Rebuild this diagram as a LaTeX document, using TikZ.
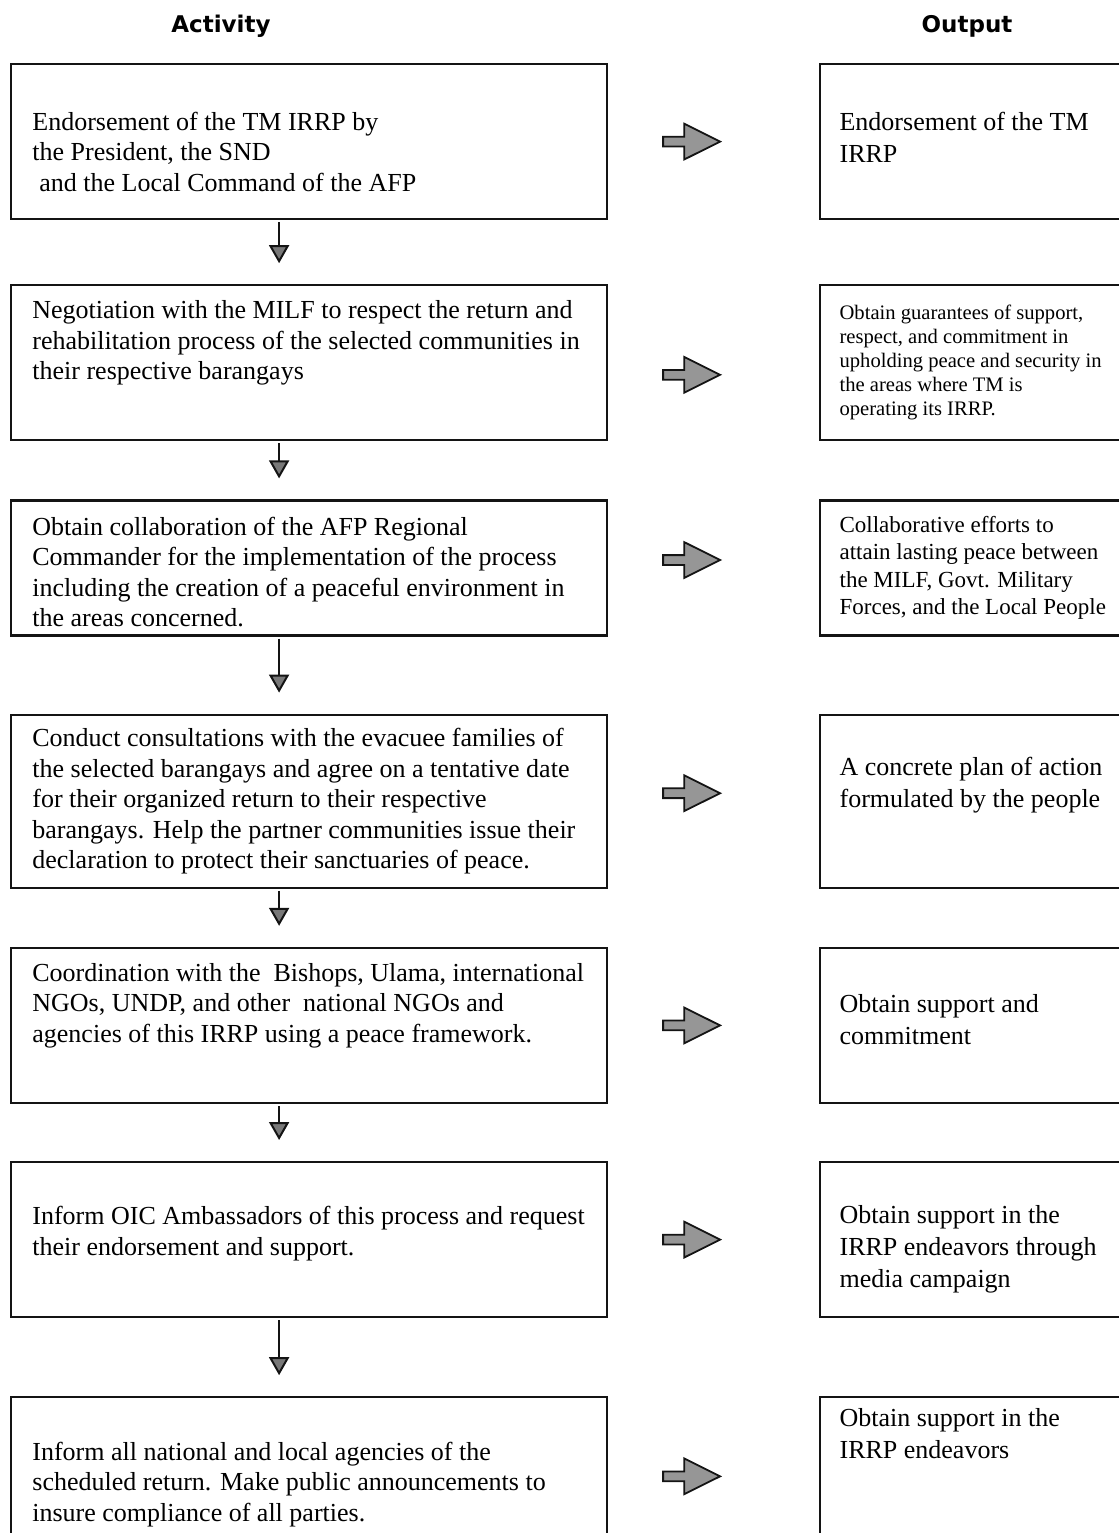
\documentclass[tikz,border=0pt]{standalone}
\usepackage{fontspec}
\setmainfont{Liberation Serif}
\newfontfamily\headfont{DejaVu Sans}
\usepackage{xcolor}
\usetikzlibrary{shapes.arrows, arrows.meta, positioning}
\definecolor{inkBlack}{RGB}{20, 20, 20}
\definecolor{arrowGray}{RGB}{150, 150, 150}

\begin{document}
\begin{tikzpicture}[
  actbox/.style={rectangle, draw=inkBlack, line width=1.1pt, minimum width=298pt, inner sep=0pt},
  outbox/.style={rectangle, draw=inkBlack, line width=1.1pt, minimum width=170pt, inner sep=0pt},
  acttext/.style={align=left, inner sep=0pt, font=\fontsize{13}{15.3}\selectfont},
  outtext/.style={align=left, inner sep=0pt, font=\fontsize{13}{16}\selectfont},
  header/.style={font=\headfont\bfseries\fontsize{11.5}{13}\selectfont},
  grayarrow/.style={single arrow, draw=inkBlack, fill=arrowGray, line width=0.9pt, minimum height=28.5pt, single arrow head extend=6.5pt, single arrow tip angle=53, inner xsep=0pt, inner ysep=2pt},
  line/.style={draw=inkBlack, line width=0.8pt, -{Triangle[length=9pt, width=10pt, line width=1pt, fill=arrowGray!80!black]}, shorten <=1pt, shorten >=10.5pt}
]
  \useasboundingbox (0,0) rectangle (559.5pt,-766.5pt);
  \clip (0,0) rectangle (559.5pt,-766.5pt);

  \node[header] (acthead) at (110.5pt,-13pt) {Activity};
  \node[header] (outhead) at (483.5pt,-13pt) {Output};

  \node[actbox, minimum height=77.5pt, anchor=north west] (act1) at (5pt,-31.5pt) {};
  \node[actbox, minimum height=77.5pt, below=32pt of act1] (act2) {};
  \node[actbox, minimum height=67.5pt, below=29pt of act2] (act3) {};
  \node[actbox, minimum height=86.5pt, below=38.5pt of act3] (act4) {};
  \node[actbox, minimum height=77.5pt, below=29pt of act4] (act5) {};
  \node[actbox, minimum height=77.5pt, below=28.5pt of act5] (act6) {};
  \node[actbox, minimum height=87pt, below=39pt of act6] (act7) {};

  \node[outbox, minimum height=77.5pt, right=105.5pt of act1] (out1) {};
  \node[outbox, minimum height=77.5pt, right=105.5pt of act2] (out2) {};
  \node[outbox, minimum height=67.5pt, right=105.5pt of act3] (out3) {};
  \node[outbox, minimum height=86.5pt, right=105.5pt of act4] (out4) {};
  \node[outbox, minimum height=77.5pt, right=105.5pt of act5] (out5) {};
  \node[outbox, minimum height=77.5pt, right=105.5pt of act6] (out6) {};
  \node[outbox, minimum height=87pt, right=105.5pt of act7] (out7) {};

  \node[acttext, right=11pt of act1.west, yshift=-5pt] (act1txt) {Endorsement of the TM IRRP by\\the President, the SND\\\hspace*{3.5pt}and the Local Command of the AFP};
  \node[acttext, right=11pt of act2.west, yshift=10pt] (act2txt) {Negotiation with the MILF to respect the return and\\rehabilitation process of the selected communities in\\their respective barangays};
  \node[acttext, right=11pt of act3.west, yshift=-2pt] (act3txt) {Obtain collaboration of the AFP Regional\\Commander for the implementation of the process\\including the creation of a peaceful environment in\\the areas concerned.};
  \node[acttext, right=11pt of act4.west] (act4txt) {Conduct consultations with the evacuee families of\\the selected barangays and agree on a tentative date\\for their organized return to their respective\\barangays. Help the partner communities issue their\\declaration to protect their sanctuaries of peace.};
  \node[acttext, right=11pt of act5.west, yshift=10pt] (act5txt) {Coordination with the~ Bishops, Ulama, international\\NGOs, UNDP, and other~ national NGOs and\\agencies of this IRRP using a peace framework.};
  \node[acttext, right=11pt of act6.west, yshift=3pt] (act6txt) {Inform OIC Ambassadors of this process and request\\their endorsement and support.};
  \node[acttext, right=11pt of act7.west] (act7txt) {Inform all national and local agencies of the\\scheduled return. Make public announcements to\\insure compliance of all parties.};

  \node[outtext, right=10pt of out1.west, yshift=2pt] (out1txt) {Endorsement of the TM\\IRRP};
  \node[outtext, right=10pt of out2.west, font=\fontsize{10.3}{12}\selectfont] (out2txt) {Obtain guarantees of support,\\respect, and commitment in\\upholding peace and security in\\the areas where TM is\\operating its IRRP.};
  \node[outtext, right=10pt of out3.west, font=\fontsize{11.5}{13.7}\selectfont] (out3txt) {Collaborative efforts to\\attain lasting peace between\\the MILF, Govt. Military\\Forces, and the Local People};
  \node[outtext, right=10pt of out4.west, yshift=8pt] (out4txt) {A concrete plan of action\\formulated by the people};
  \node[outtext, right=10pt of out5.west, yshift=3pt] (out5txt) {Obtain support and\\commitment};
  \node[outtext, right=10pt of out6.west, yshift=-5pt] (out6txt) {Obtain support in the\\IRRP endeavors through\\media campaign};
  \node[outtext, below right=6pt and 10pt of out7.north west] (out7txt) {Obtain support in the\\IRRP endeavors};

  \node[grayarrow, right=27pt of act1] (arr1) {};
  \node[grayarrow, right=27pt of act2, yshift=-6pt] (arr2) {};
  \node[grayarrow, right=27pt of act3, yshift=4pt] (arr3) {};
  \node[grayarrow, right=27pt of act4, yshift=4pt] (arr4) {};
  \node[grayarrow, right=27pt of act5] (arr5) {};
  \node[grayarrow, right=27pt of act6] (arr6) {};
  \node[grayarrow, right=27pt of act7, yshift=4pt] (arr7) {};

  \path[line] ([xshift=-15pt]act1.south) -- ([xshift=-15pt]act2.north);
  \path[line] ([xshift=-15pt]act2.south) -- ([xshift=-15pt]act3.north);
  \path[line] ([xshift=-15pt]act3.south) -- ([xshift=-15pt]act4.north);
  \path[line] ([xshift=-15pt]act4.south) -- ([xshift=-15pt]act5.north);
  \path[line] ([xshift=-15pt]act5.south) -- ([xshift=-15pt]act6.north);
  \path[line] ([xshift=-15pt]act6.south) -- ([xshift=-15pt]act7.north);
\end{tikzpicture}
\end{document}
